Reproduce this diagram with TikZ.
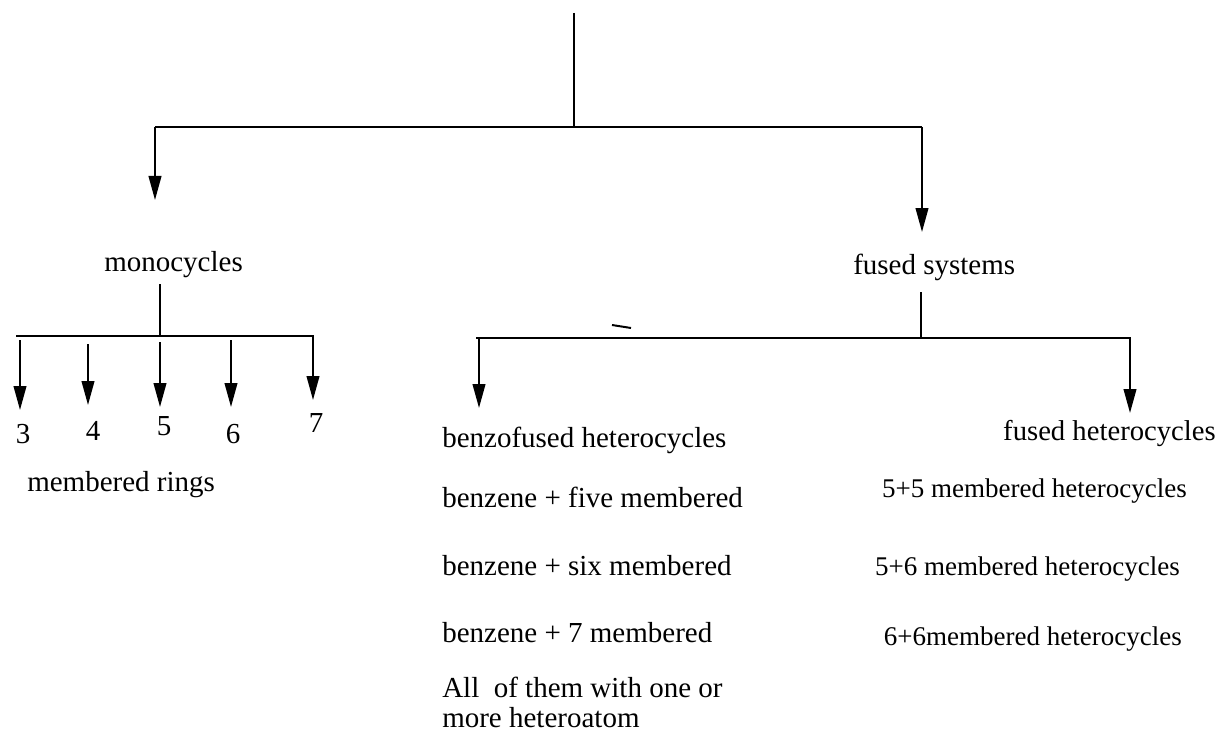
\documentclass[tikz,border=0pt]{standalone}
\usepackage{fontspec}
\setmainfont{Liberation Serif}
\usetikzlibrary{arrows.meta}
\tikzset{
  branch/.style={line width=1.5pt},
  down/.style={branch, -{Triangle[length=18pt,width=9.5pt]}},
  lbl/.style={inner sep=0pt, anchor=base west, font=\fontsize{21.75}{26}\selectfont},
  rlbl/.style={inner sep=0pt, anchor=base east, font=\fontsize{20.25}{24}\selectfont},
  digit/.style={inner sep=0pt, anchor=base, font=\fontsize{21.75}{26}\selectfont},
}
\begin{document}
\begin{tikzpicture}[x=0.75pt,y=-0.75pt]
\useasboundingbox (0,0) rectangle (1224,731);
% top split
\coordinate (root) at (574,13);
\coordinate (rootj) at (574,127);
\coordinate (lj) at (155,127);
\coordinate (rj) at (922,127);
\coordinate (ltip) at (155,200);
\coordinate (rtip) at (922,232);
\draw[branch] (root) -- (rootj);
\draw[branch] (lj) -- (rj);
\draw[down] (lj) -- (ltip);
\draw[down] (rj) -- (rtip);
\node[lbl] (mono) at (104,271) {monocycles};
\node[lbl] (fused) at (853,274) {fused systems};
% monocycles
\coordinate (mtop) at (160,284);
\coordinate (mj) at (160,336);
\draw[branch] (mtop) -- (mj);
\draw[branch] (16,336) -- (mj);
\draw[down] (mj) -- (313,336) -- (313,400);
\draw[down] (20,340) -- (20,410);
\draw[down] (88,344) -- (88,405);
\draw[down] (160,342) -- (160,407);
\draw[down] (231,340) -- (231,407);
\node[digit] (n3) at (23,443) {3};
\node[digit] (n4) at (93,440) {4};
\node[digit] (n5) at (164,435) {5};
\node[digit] (n6) at (233,443) {6};
\node[digit] (n7) at (316,432) {7};
\node[lbl] (rings) at (27,491) {membered rings};
% fused systems
\coordinate (ftop) at (921,292);
\coordinate (fj) at (921,338);
\draw[branch] (ftop) -- (fj);
\draw[branch] (476,338) -- (fj);
\draw[down] (fj) -- (1130,338) -- (1130,413);
\draw[down] (479,338) -- (479,408);
\draw[branch] (612,325) -- (631,328);
\node[lbl] (benzo) at (442,447) {benzofused heterocycles};
\node[lbl] (b5) at (442,507) {benzene + five membered};
\node[lbl] (b6) at (442,575) {benzene + six membered};
\node[lbl] (b7) at (442,642) {benzene + 7 membered};
\node[lbl] (all) at (442,697) {All~ of them with one or};
\node[lbl] (more) at (442,727) {more heteroatom};
\node[rlbl, font=\fontsize{21.5}{26}\selectfont] (fhet) at (1216,440) {fused heterocycles};
\node[rlbl] (h55) at (1187,497) {5+5 membered heterocycles};
\node[rlbl] (h56) at (1180,575) {5+6 membered heterocycles};
\node[rlbl] (h66) at (1182,645) {6+6membered heterocycles};
\end{tikzpicture}
\end{document}
